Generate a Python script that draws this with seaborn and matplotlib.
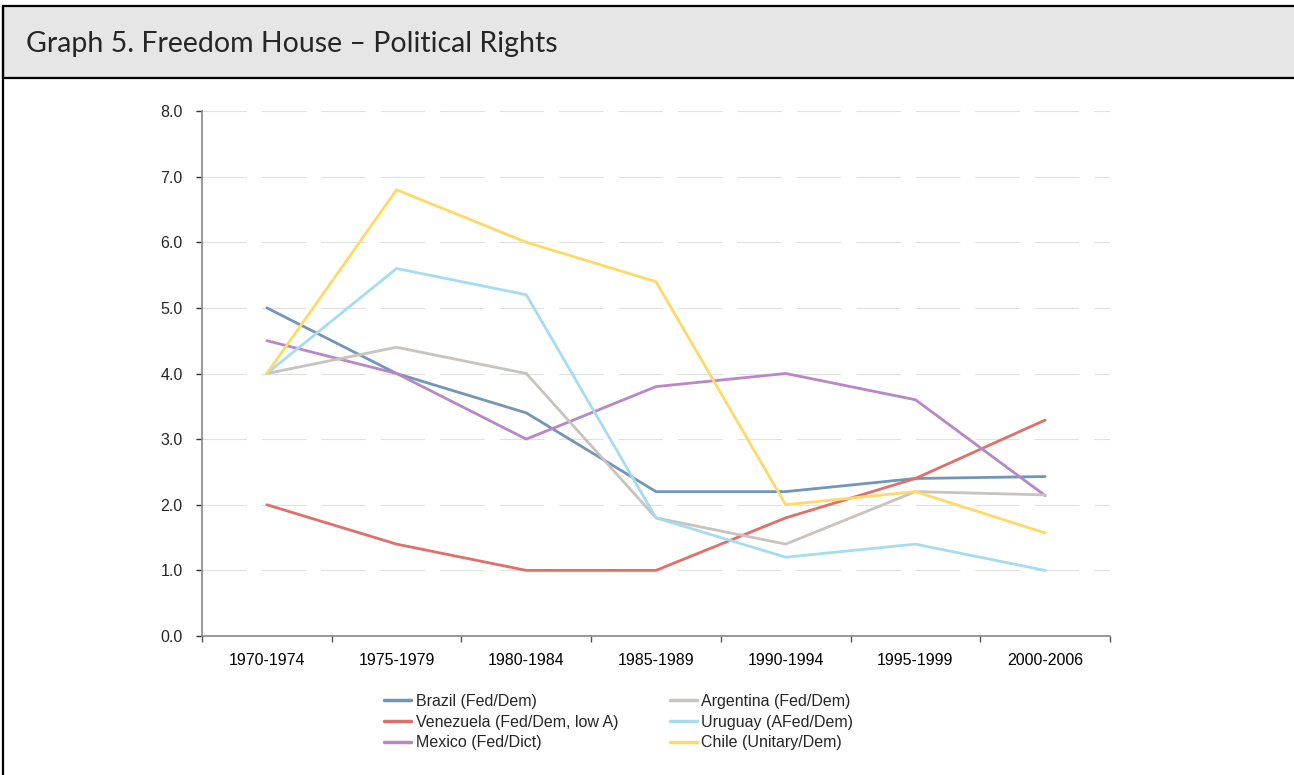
import numpy as np
import pandas as pd
import seaborn as sns
import matplotlib.pyplot as plt
from matplotlib.patches import Rectangle
from matplotlib.lines import Line2D
from matplotlib.ticker import FixedLocator, FormatStrFormatter

periods = ['1970-1974', '1975-1979', '1980-1984', '1985-1989',
           '1990-1994', '1995-1999', '2000-2006']

brazil = [5.0, 4.0, 3.4, 2.2, 2.2, 2.4, 2.43]
venezuela = [2.0, 1.4, 1.0, 1.0, 1.8, 2.4, 3.29]
mexico = [4.5, 4.0, 3.0, 3.8, 4.0, 3.6, 2.14]
argentina = [4.0, 4.4, 4.0, 1.8, 1.4, 2.2, 2.15]
uruguay = [4.0, 5.6, 5.2, 1.8, 1.2, 1.4, 1.0]
chile = [4.0, 6.8, 6.0, 5.4, 2.0, 2.2, 1.57]

series = {
    'Brazil (Fed/Dem)': brazil,
    'Venezuela (Fed/Dem, low A)': venezuela,
    'Mexico (Fed/Dict)': mexico,
    'Argentina (Fed/Dem)': argentina,
    'Uruguay (AFed/Dem)': uruguay,
    'Chile (Unitary/Dem)': chile,
}
colors = ['#7396b6', '#e06f6a', '#b887c6', '#c9c2bd', '#a5dcf0', '#ffd966']

rows = []
for name, vals in series.items():
    for p, v in zip(periods, vals):
        rows.append({'period': p, 'value': v, 'country': name})
df = pd.DataFrame(rows)

sns.set_style('white')
plt.rcParams['font.family'] = ['Liberation Sans', 'DejaVu Sans']

fig = plt.figure(figsize=(12.94, 7.75), dpi=100)

# header band and frame
fig.patches.append(Rectangle((3 / 1294, 1 - 78 / 775), 1.0, 72 / 775, transform=fig.transFigure,
                             facecolor='#e6e6e6', edgecolor='black', linewidth=1.6, zorder=0))
fig.add_artist(Line2D([3 / 1294, 3 / 1294], [0, 1 - 6 / 775], transform=fig.transFigure,
                      color='black', linewidth=1.6))
fig.text(26 / 1294, 1 - 44 / 775, 'Graph 5. Freedom House \u2013 Political Rights',
         fontsize=20.5, family=['Lato', 'DejaVu Sans'], va='center', ha='left')

ax = fig.add_axes([202 / 1294, 1 - 636 / 775, 908 / 1294, 525 / 775])

sns.lineplot(data=df, x='period', y='value', hue='country', palette=colors,
             linewidth=2.0, ax=ax, sort=False, legend=False)

ax.set_xlim(-0.5, 6.5)
ax.set_ylim(0, 8)
ax.set_xlabel('')
ax.set_ylabel('')

ax.set_yticks(np.arange(0, 8.01, 1.0))
ax.yaxis.set_major_formatter(FormatStrFormatter('%.1f'))
ax.set_xticks(range(len(periods)))
ax.set_xticklabels(periods)
ax.xaxis.set_minor_locator(FixedLocator(np.arange(-0.5, 6.6, 1.0)))
ax.tick_params(axis='x', which='major', length=0, pad=12, labelsize=11.5, colors='black')
ax.tick_params(axis='x', which='minor', length=4, width=1, color='#555555', direction='out', bottom=True)
ax.tick_params(axis='y', which='major', length=4, width=1, color='#333333', direction='out',
               left=True, pad=10, labelsize=11.5)

for s in ['top', 'right']:
    ax.spines[s].set_visible(False)
for s in ['left', 'bottom']:
    ax.spines[s].set_color('#868686')
    ax.spines[s].set_linewidth(1.2)

ax.yaxis.grid(True, color='#e0e0e0', linewidth=0.8, linestyle=(0, (40, 13.5)))
ax.set_axisbelow(True)

handles = [Line2D([0], [0], color=c, linewidth=2.5) for c in colors]
fig.legend(handles, list(series.keys()), ncol=2, loc='upper left',
           bbox_to_anchor=(376 / 1294, 1 - 686 / 775), frameon=False, fontsize=11.5,
           handlelength=1.7, handletextpad=0.3, columnspacing=3.2, labelspacing=0.36,
           borderpad=0)

fig.savefig('out.png', dpi=100)
